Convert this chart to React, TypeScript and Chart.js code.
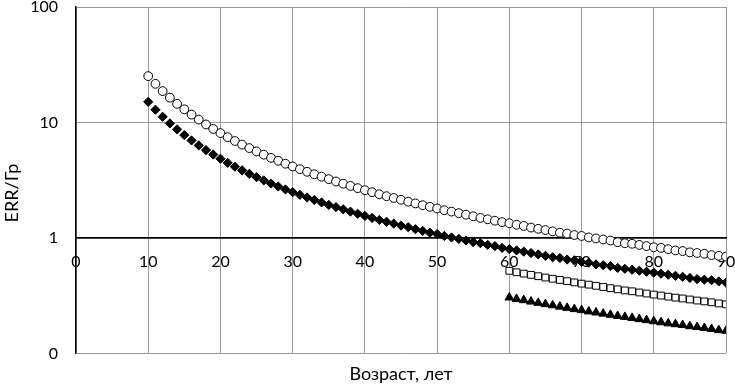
import React, { useEffect, useRef } from "react";
import { Chart, registerables } from "chart.js";

Chart.register(...registerables);

const agesFull: number[] = [
  10, 11, 12, 13, 14, 15, 16, 17, 18, 19, 20, 21, 22, 23, 24, 25, 26, 27, 28, 29,
  30, 31, 32, 33, 34, 35, 36, 37, 38, 39, 40, 41, 42, 43, 44, 45, 46, 47, 48, 49,
  50, 51, 52, 53, 54, 55, 56, 57, 58, 59, 60, 61, 62, 63, 64, 65, 66, 67, 68, 69,
  70, 71, 72, 73, 74, 75, 76, 77, 78, 79, 80, 81, 82, 83, 84, 85, 86, 87, 88, 89, 90,
];

const agesOld: number[] = [
  60, 61, 62, 63, 64, 65, 66, 67, 68, 69, 70, 71, 72, 73, 74, 75, 76, 77, 78, 79,
  80, 81, 82, 83, 84, 85, 86, 87, 88, 89, 90,
];

const circleValues: number[] = [
  25.2, 21.6, 18.7, 16.4, 14.5, 13.0, 11.7, 10.6, 9.61, 8.79,
  8.09, 7.46, 6.91, 6.43, 6.0, 5.61, 5.26, 4.94, 4.66, 4.39,
  4.16, 3.94, 3.74, 3.56, 3.39, 3.23, 3.08, 2.95, 2.82, 2.7,
  2.59, 2.49, 2.39, 2.3, 2.22, 2.14, 2.06, 1.99, 1.92, 1.86,
  1.8, 1.74, 1.69, 1.64, 1.59, 1.54, 1.49, 1.45, 1.41, 1.37,
  1.34, 1.3, 1.27, 1.23, 1.2, 1.17, 1.14, 1.11, 1.09, 1.06,
  1.04, 1.01, 0.99, 0.97, 0.95, 0.92, 0.9, 0.89, 0.87, 0.85,
  0.83, 0.82, 0.8, 0.78, 0.77, 0.75, 0.74, 0.73, 0.71, 0.7, 0.69,
];

const diamondValues: number[] = [
  15.1, 12.9, 11.2, 9.82, 8.7, 7.77, 6.99, 6.33, 5.76, 5.27,
  4.85, 4.47, 4.14, 3.85, 3.59, 3.36, 3.15, 2.96, 2.79, 2.63,
  2.49, 2.36, 2.24, 2.13, 2.03, 1.93, 1.85, 1.77, 1.69, 1.62,
  1.55, 1.49, 1.43, 1.38, 1.33, 1.28, 1.24, 1.19, 1.15, 1.11,
  1.08, 1.04, 1.01, 0.98, 0.95, 0.92, 0.9, 0.87, 0.85, 0.82,
  0.8, 0.78, 0.76, 0.74, 0.72, 0.7, 0.68, 0.67, 0.65, 0.64,
  0.62, 0.61, 0.59, 0.58, 0.57, 0.55, 0.54, 0.53, 0.52, 0.51,
  0.5, 0.49, 0.48, 0.47, 0.46, 0.45, 0.44, 0.435, 0.43, 0.42, 0.41,
];

const squareValues: number[] = [
  0.519, 0.504, 0.491, 0.479, 0.466, 0.454, 0.443, 0.433, 0.422, 0.412,
  0.402, 0.394, 0.385, 0.376, 0.367, 0.359, 0.351, 0.345, 0.337, 0.33,
  0.323, 0.317, 0.31, 0.304, 0.299, 0.293, 0.287, 0.282, 0.277, 0.271, 0.266,
];

const triangleValues: number[] = [
  0.305, 0.296, 0.289, 0.281, 0.274, 0.267, 0.261, 0.254, 0.248, 0.242,
  0.237, 0.231, 0.226, 0.221, 0.216, 0.211, 0.207, 0.203, 0.198, 0.194,
  0.19, 0.186, 0.182, 0.179, 0.176, 0.172, 0.169, 0.166, 0.163, 0.159, 0.157,
];

const yTickValues: number[] = [0.1, 1, 10, 100];
const yTickLabels: string[] = ["0", "1", "10", "100"];

const xTitle = "Возраст, лет";
const yTitle = "ERR/Гр";

const FONT = "Lato, 'Open Sans', sans-serif";

function pts(xs: number[], ys: number[]) {
  return xs.map((x, i) => ({ x, y: ys[i] }));
}

const yTitlePlugin = {
  id: "yTitleCustom",
  afterDraw(chart: any) {
    const ctx = chart.ctx;
    ctx.save();
    ctx.fillStyle = "#000000";
    ctx.font = `18px ${FONT}`;
    ctx.textAlign = "center";
    ctx.textBaseline = "middle";
    ctx.translate(12, 193);
    ctx.rotate(-Math.PI / 2);
    ctx.fillText(yTitle, 0, 0);
    ctx.restore();
  },
};

export default function App() {
  const ref = useRef<HTMLCanvasElement | null>(null);

  useEffect(() => {
    document.body.style.margin = "0";
    if (!ref.current) return;
    const chart = new Chart(ref.current, {
      type: "scatter",
      data: {
        datasets: [
          {
            data: pts(agesFull, circleValues),
            pointStyle: "circle",
            pointRadius: 4.4,
            pointBackgroundColor: "#ffffff",
            pointBorderColor: "#000000",
            pointBorderWidth: 1,
            showLine: false,
          },
          {
            data: pts(agesFull, diamondValues),
            pointStyle: "rectRot",
            pointRadius: 4.6,
            pointBackgroundColor: "#000000",
            pointBorderColor: "#000000",
            pointBorderWidth: 1,
            showLine: false,
          },
          {
            data: pts(agesOld, squareValues),
            pointStyle: "rect",
            pointRadius: 4.8,
            pointBackgroundColor: "#ffffff",
            pointBorderColor: "#000000",
            pointBorderWidth: 1,
            showLine: false,
          },
          {
            data: pts(agesOld, triangleValues),
            pointStyle: "triangle",
            pointRadius: 5,
            pointBackgroundColor: "#000000",
            pointBorderColor: "#000000",
            pointBorderWidth: 1,
            showLine: false,
          },
        ],
      },
      options: {
        animation: false,
        responsive: false,
        layout: { padding: { left: 6, right: 9, top: 0, bottom: 0 } },
        plugins: {
          legend: { display: false },
          tooltip: { enabled: false },
          title: {
            display: true,
            position: "bottom",
            fullSize: false,
            text: xTitle,
            color: "#000000",
            font: { family: FONT, size: 18, weight: "normal" },
            padding: { top: 10, bottom: 0 },
          },
        },
        scales: {
          x: {
            type: "linear",
            position: { y: 1 } as any,
            min: 0,
            max: 90,
            afterFit: (scale: any) => {
              scale.paddingLeft = 0;
              scale.paddingRight = 0;
            },
            ticks: {
              stepSize: 10,
              color: "#000000",
              font: { family: FONT, size: 16 },
              padding: 14,
              maxRotation: 0,
            },
            grid: { color: "#9a9a9a", lineWidth: 1, drawTicks: false },
            border: { display: true, color: "#000000", width: 1.5 },
          },
          y: {
            type: "logarithmic",
            min: 0.1,
            max: 100,
            afterBuildTicks: (scale: any) => {
              scale.ticks = yTickValues.map((v) => ({ value: v }));
            },
            afterFit: (scale: any) => {
              scale.width = 70;
              scale.paddingTop = 7;
              scale.paddingBottom = 0;
            },
            ticks: {
              color: "#000000",
              font: { family: FONT, size: 16 },
              padding: 18,
              callback: (v: any) => {
                const i = yTickValues.indexOf(Number(v));
                return i >= 0 ? yTickLabels[i] : "";
              },
            },
            grid: {
              color: (ctx: any) => (ctx.tick && ctx.tick.value === 1 ? "#000000" : "#9a9a9a"),
              lineWidth: (ctx: any) => (ctx.tick && ctx.tick.value === 1 ? 1.5 : 1),
              drawTicks: false,
            },
            border: { display: true, color: "#000000", width: 1.5 },
            title: { display: false },
          },
        },
      },
      plugins: [yTitlePlugin],
    });
    return () => chart.destroy();
  }, []);

  return (
    <div style={{ width: 735, height: 385 }}>
      <canvas ref={ref} width={735} height={385} />
    </div>
  );
}
